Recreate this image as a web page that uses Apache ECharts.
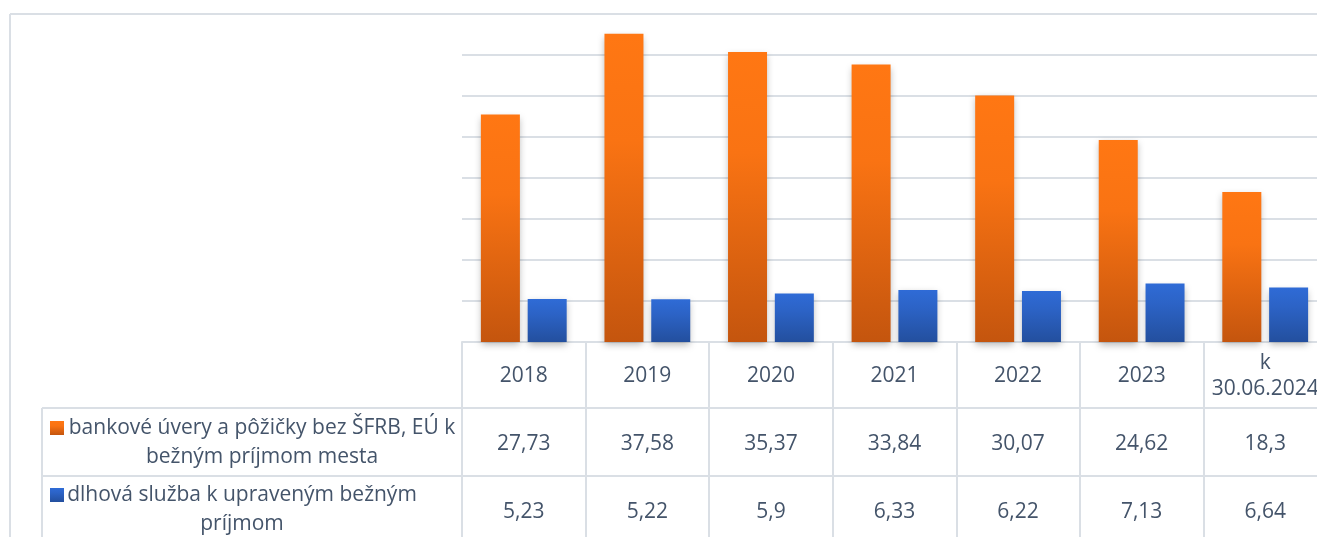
<!DOCTYPE html>
<html>
<head>
<meta charset="utf-8">
<script src="https://cdn.jsdelivr.net/npm/echarts@6/dist/echarts.min.js"></script>
<style>
html,body{margin:0;padding:0;background:#fff;overflow:hidden;}
#c{width:1317px;height:537px;}
</style>
</head>
<body>
<div id="c"></div>
<script>
const categories = ['2018', '2019', '2020', '2021', '2022', '2023', 'k\n30.06.2024'];
const loans = [27.73, 37.58, 35.37, 33.84, 30.07, 24.62, 18.3];
const debtService = [5.23, 5.22, 5.9, 6.33, 6.22, 7.13, 6.64];
const seriesNames = ['bankové úvery a pôžičky bez ŠFRB, EÚ k bežným príjmom mesta', 'dlhová služba k upraveným bežným príjmom'];
const legendLines1 = ['bankové úvery a pôžičky bez ŠFRB, EÚ k', 'bežným príjmom mesta'];
const legendLines2 = ['dlhová služba k upraveným bežným', 'príjmom'];
const yMin = 0, yMax = 40, yInterval = 5;

const FONT = '"Open Sans", "Noto Sans", sans-serif';
const FS = 21;
const TXT = '#44546A';
const LINE = '#DADFE5';
const fmt = v => String(v).replace('.', ',');

const orangeGrad = new echarts.graphic.LinearGradient(0, 0, 0, 1, [
  {offset: 0, color: '#FF7713'}, {offset: 0.35, color: '#F97313'}, {offset: 1, color: '#C4550E'}
]);
const blueGrad = new echarts.graphic.LinearGradient(0, 0, 0, 1, [
  {offset: 0, color: '#2F6BD6'}, {offset: 0.35, color: '#2C63C6'}, {offset: 1, color: '#234F9E'}
]);

const chart = echarts.init(document.getElementById('c'));
const labelBase = {color: TXT, fontSize: FS, fontFamily: FONT, interval: 0, verticalAlign: 'middle', lineHeight: 26};

chart.setOption({
  backgroundColor: '#fff',
  animation: false,
  grid: {left: 462, top: 14, width: 865, height: 328, outerBoundsMode: 'none', containLabel: false},
  xAxis: [
    {type: 'category', data: categories, position: 'bottom',
     axisLine: {show: true, lineStyle: {color: LINE, width: 2}},
     axisTick: {show: true, length: 195, interval: 0, lineStyle: {color: LINE, width: 2}},
     axisLabel: Object.assign({}, labelBase, {margin: 34})},
    {type: 'category', data: categories, position: 'bottom',
     axisLine: {show: false}, axisTick: {show: false},
     axisLabel: Object.assign({}, labelBase, {margin: 102, formatter: (v, i) => fmt(loans[i])})},
    {type: 'category', data: categories, position: 'bottom',
     axisLine: {show: false}, axisTick: {show: false},
     axisLabel: Object.assign({}, labelBase, {margin: 170, formatter: (v, i) => fmt(debtService[i])})}
  ],
  yAxis: {type: 'value', min: yMin, max: yMax, interval: yInterval,
    axisLabel: {show: false}, axisLine: {show: false}, axisTick: {show: false},
    splitLine: {lineStyle: {color: LINE, width: 2}}},
  series: [
    {name: seriesNames[0], type: 'bar', data: loans, barWidth: 39, barGap: '20%',
     itemStyle: {color: orangeGrad, shadowBlur: 7, shadowColor: 'rgba(0,0,0,0.28)', shadowOffsetY: 3}},
    {name: seriesNames[1], type: 'bar', data: debtService, barWidth: 39, barGap: '20%',
     itemStyle: {color: blueGrad, shadowBlur: 7, shadowColor: 'rgba(0,0,0,0.28)', shadowOffsetY: 3}}
  ],
  graphic: [
    {type: 'line', shape: {x1: 10, y1: 14, x2: 1317, y2: 14}, style: {stroke: LINE, lineWidth: 2}},
    {type: 'line', shape: {x1: 10, y1: 14, x2: 10, y2: 537}, style: {stroke: LINE, lineWidth: 2}},
    {type: 'line', shape: {x1: 42, y1: 408, x2: 1317, y2: 408}, style: {stroke: LINE, lineWidth: 2}},
    {type: 'line', shape: {x1: 42, y1: 476, x2: 1317, y2: 476}, style: {stroke: LINE, lineWidth: 2}},
    {type: 'line', shape: {x1: 42, y1: 408, x2: 42, y2: 537}, style: {stroke: LINE, lineWidth: 2}},
    {type: 'rect', shape: {x: 50, y: 421, width: 14, height: 14}, style: {fill: orangeGrad}},
    {type: 'rect', shape: {x: 50, y: 488, width: 14, height: 14}, style: {fill: blueGrad}},
    {type: 'text', x: 262, y: 443, style: {text: legendLines1.join('\n'), align: 'center', verticalAlign: 'middle',
      fill: TXT, fontSize: FS, fontFamily: FONT, lineHeight: 29}},
    {type: 'text', x: 242, y: 510, style: {text: legendLines2.join('\n'), align: 'center', verticalAlign: 'middle',
      fill: TXT, fontSize: FS, fontFamily: FONT, lineHeight: 29}}
  ]
});
</script>
</body>
</html>
